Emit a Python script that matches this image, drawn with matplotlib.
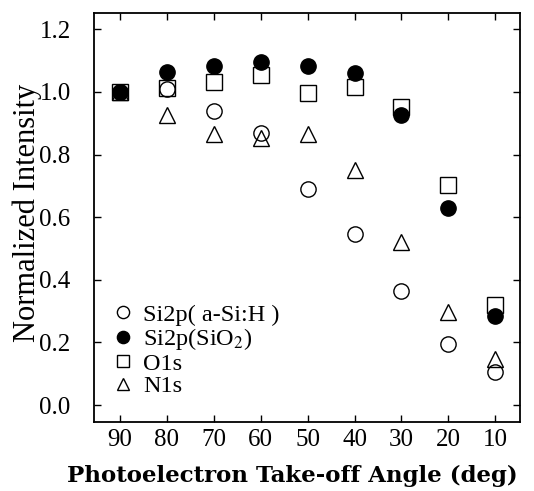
import matplotlib.pyplot as plt

plt.rcParams['font.family'] = ['Liberation Serif', 'DejaVu Serif']
plt.rcParams['mathtext.fontset'] = 'stix'

# take-off angles (deg)
angles = [90, 80, 70, 60, 50, 40, 30, 20, 10]

# normalized intensities
si_asih = [1.00, 1.01, 0.94, 0.87, 0.69, 0.545, 0.365, 0.195, 0.105]
si_sio2 = [1.00, 1.065, 1.084, 1.094, 1.084, 1.06, 0.927, 0.628, 0.285]
o1s = [1.00, 1.012, 1.033, 1.054, 0.996, 1.017, 0.952, 0.703, 0.32]
n1s = [1.00, 0.925, 0.866, 0.852, 0.866, 0.75, 0.52, 0.298, 0.148]

labels = ['Si2p( a-Si:H )', 'Si2p(SiO$_2$)', 'O1s', 'N1s']
yticks = [0.0, 0.2, 0.4, 0.6, 0.8, 1.0, 1.2]

fig = plt.figure(figsize=(5.34, 4.91), dpi=100)
ax = fig.add_axes([0.1766, 0.1411, 0.7974, 0.8324])

ms = 11
ax.plot(angles, si_asih, 'o', ms=ms, mfc='white', mec='black', mew=1.0, label=labels[0])
ax.plot(angles, si_sio2, 'o', ms=ms, mfc='black', mec='black', mew=1.0, label=labels[1])
ax.plot(angles, o1s, 's', ms=ms, mfc='none', mec='black', mew=1.0, label=labels[2])
ax.plot(angles, n1s, '^', ms=ms, mfc='none', mec='black', mew=1.0, label=labels[3])

ax.set_xlim(95.5, 4.7)
ax.set_ylim(-0.053, 1.252)
ax.set_xticks(angles)
ax.set_yticks(yticks)
ax.set_yticklabels([f'{v:.1f}' for v in yticks])
ax.tick_params(direction='in', length=5, width=1, top=True, right=True,
               labelsize=18)
ax.tick_params(axis='x', pad=5)
ax.tick_params(axis='y', pad=17)
for s in ax.spines.values():
    s.set_linewidth(1.3)

ax.set_ylabel('Normalized Intensity', fontsize=22)
ax.yaxis.set_label_coords(-0.122, 0.51)
ax.set_xlabel('Photoelectron Take-off Angle (deg)', fontsize=16.5,
              fontweight='bold', family='DejaVu Serif')
ax.xaxis.set_label_coords(0.465, -0.105)

ax.legend(loc='lower left', frameon=False, fontsize=17.5, markerscale=0.8,
          handlelength=0.7, handletextpad=0.5, labelspacing=0.02,
          borderaxespad=0.2, bbox_to_anchor=(0.012, 0.024))

fig.savefig('out.png', dpi=100)
